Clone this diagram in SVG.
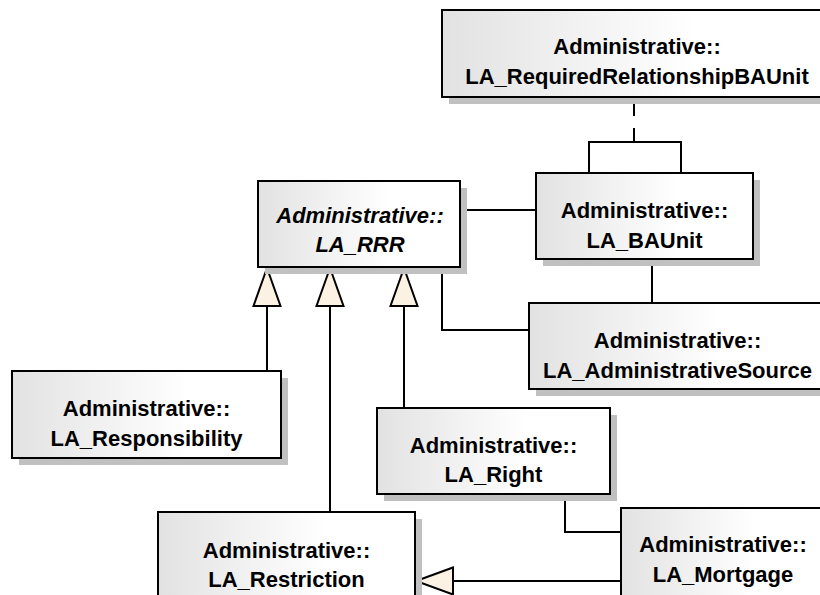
<svg xmlns="http://www.w3.org/2000/svg" width="820" height="595" viewBox="0 0 820 595">
<defs>
<linearGradient id="boxfill" x1="0" y1="0" x2="1" y2="0">
<stop offset="0" stop-color="#e2e2e2"/>
<stop offset="0.65" stop-color="#ffffff"/>
<stop offset="1" stop-color="#ffffff"/>
</linearGradient>
<style>
.shadow{fill:#c0c0c0;stroke:none}
.box{fill:url(#boxfill);stroke:#000;stroke-width:2}
.lbl{font-family:"Liberation Sans",Arial,sans-serif;font-weight:bold;font-size:22px;fill:#000;text-anchor:middle}
.it{font-style:italic}
.conn{fill:none;stroke:#000;stroke-width:2}
.dash{stroke-dasharray:15 12}
.gen{fill:#fbf2e3;stroke:#000;stroke-width:2;stroke-linejoin:miter}
</style>
</defs>
<rect width="820" height="595" fill="#ffffff"/>

<g id="connectors">
<path class="conn dash" d="M634,101 V143"/>
<path class="conn" d="M589,173 V142 H681 V173"/>
<path class="conn" d="M460,210 H536"/>
<path class="conn" d="M652,259 V303"/>
<path class="conn" d="M442,267 V330 H529"/>
<path class="conn" d="M267,306 V371"/>
<polygon class="gen" points="267,268 253.5,306 280.5,306"/>
<path class="conn" d="M330,306 V512"/>
<polygon class="gen" points="330,268 316.5,306 343.5,306"/>
<path class="conn" d="M404,306 V408"/>
<polygon class="gen" points="404,268 390.5,306 417.5,306"/>
<path class="conn" d="M565,494 V532 H621"/>
<path class="conn" d="M621,581 H453"/>
<polygon class="gen" points="416,581 453,567.5 453,594.5"/>
</g>

<g id="LA_RequiredRelationshipBAUnit">
<rect class="shadow" x="449" y="17" width="390" height="87"/>
<rect class="box" x="442" y="10" width="390" height="87"/>
<text class="lbl" x="637" y="54">Administrative::</text>
<text class="lbl" x="637" y="84">LA_RequiredRelationshipBAUnit</text>
</g>

<g id="LA_BAUnit">
<rect class="shadow" x="543" y="180" width="217" height="86"/>
<rect class="box" x="536" y="173" width="217" height="86"/>
<text class="lbl" x="644.5" y="218">Administrative::</text>
<text class="lbl" x="644.5" y="248">LA_BAUnit</text>
</g>

<g id="LA_RRR">
<rect class="shadow" x="265" y="188" width="202" height="86"/>
<rect class="box" x="258" y="181" width="202" height="86"/>
<text class="lbl it" x="360" y="223">Administrative::</text>
<text class="lbl it" x="360" y="252">LA_RRR</text>
</g>

<g id="LA_AdministrativeSource">
<rect class="shadow" x="536" y="310" width="297" height="86"/>
<rect class="box" x="529" y="303" width="297" height="86"/>
<text class="lbl" x="677.5" y="348">Administrative::</text>
<text class="lbl" x="677.5" y="378">LA_AdministrativeSource</text>
</g>

<g id="LA_Responsibility">
<rect class="shadow" x="19" y="378" width="269" height="87"/>
<rect class="box" x="12" y="371" width="269" height="87"/>
<text class="lbl" x="146.5" y="416">Administrative::</text>
<text class="lbl" x="146.5" y="446">LA_Responsibility</text>
</g>

<g id="LA_Right">
<rect class="shadow" x="384" y="415" width="233" height="86"/>
<rect class="box" x="377" y="408" width="233" height="86"/>
<text class="lbl" x="493.5" y="453">Administrative::</text>
<text class="lbl" x="493.5" y="482">LA_Right</text>
</g>

<g id="LA_Restriction">
<rect class="shadow" x="165" y="519" width="257" height="100"/>
<rect class="box" x="158" y="512" width="257" height="100"/>
<text class="lbl" x="286.5" y="558">Administrative::</text>
<text class="lbl" x="286.5" y="587">LA_Restriction</text>
</g>

<g id="LA_Mortgage">
<rect class="shadow" x="628" y="515" width="204" height="100"/>
<rect class="box" x="621" y="508" width="204" height="100"/>
<text class="lbl" x="723" y="552">Administrative::</text>
<text class="lbl" x="723" y="582">LA_Mortgage</text>
</g>
</svg>
